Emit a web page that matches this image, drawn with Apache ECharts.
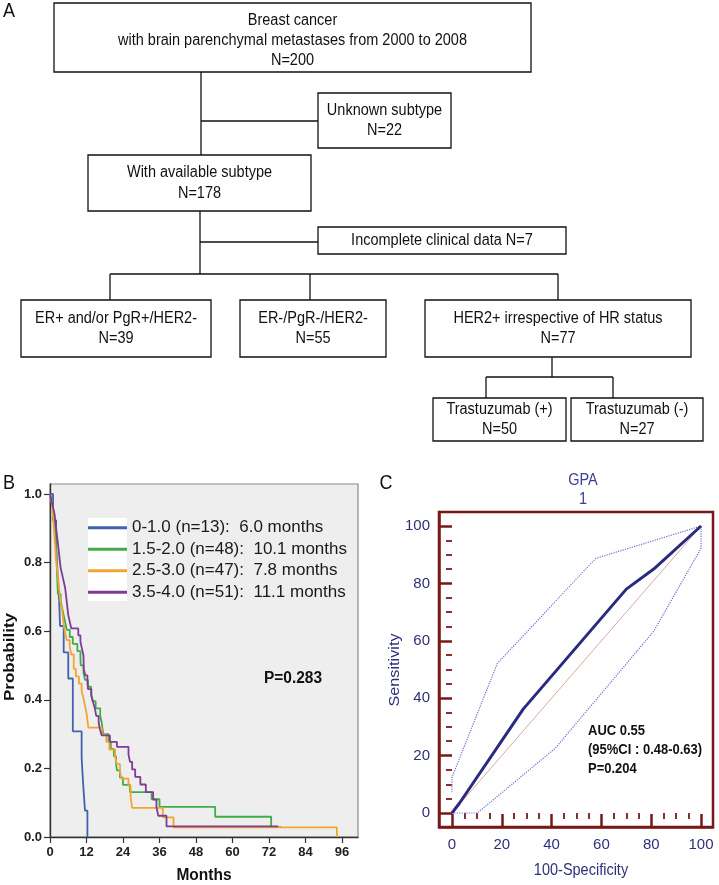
<!DOCTYPE html>
<html><head><meta charset="utf-8">
<script src="https://cdn.jsdelivr.net/npm/echarts@6/dist/echarts.min.js"></script>
<style>html,body{margin:0;padding:0;background:#fff}#c{width:719px;height:885px}</style>
</head><body><div id="c"></div>
<script>
// ---------------- data ----------------
const flowTexts = [
  'Breast cancer\nwith brain parenchymal metastases from 2000 to 2008\nN=200',
  'Unknown subtype\nN=22',
  'With available subtype\nN=178',
  'Incomplete clinical data N=7',
  'ER+ and/or PgR+/HER2-\nN=39',
  'ER-/PgR-/HER2-\nN=55',
  'HER2+ irrespective of HR status\nN=77',
  'Trastuzumab (+)\nN=50',
  'Trastuzumab (-)\nN=27'
];

const kmNames = ['0-1.0 (n=13):  6.0 months', '1.5-2.0 (n=48):  10.1 months', '2.5-3.0 (n=47):  7.8 months', '3.5-4.0 (n=51):  11.1 months'];
const kmColors = ['#4262b0', '#3fae49', '#f5a432', '#7e3c93'];

const blueMonths = [0,1.0,2.0,2.5,3.0,3.3,4.5,6.0,7.5,10.4,10.9,11.5,12.3];
const blueSurv   = [1,.923,.846,.769,.692,.615,.538,.462,.308,.231,.154,.077,0];

const greenMonths = [0,0.5,1,1.5,2,2.3,2.6,3.5,4,4.5,5,5.5,6.5,7.5,9,10,10.1,11,11.5,12.5,13.5,14,15,16.5,17,17.5,19.2,20,21,21.7,22,23,24,26.3,33.4,36,54.3,72.7,76];
const greenSurv   = [1,.979,.958,.917,.854,.771,.708,.688,.667,.646,.625,.604,.583,.563,.542,.521,.500,.479,.458,.438,.417,.396,.375,.354,.333,.300,.278,.257,.236,.215,.194,.173,.152,.131,.110,.088,.059,.029,.029];

const orangeMonths = [0,0.5,1,1.5,2,2.5,3,3.5,4,4.5,5,5.5,6.5,7,7.8,8.5,9.5,10.4,11,11.5,12,12.6,17,18.5,19.5,21.4,22,23,23.5,25.8,26.5,27,37.1,40.6,94.3];
const orangeSurv   = [1,.979,.936,.872,.809,.766,.723,.681,.660,.617,.596,.574,.553,.532,.490,.468,.447,.426,.404,.383,.362,.319,.298,.277,.255,.234,.213,.191,.170,.149,.117,.085,.057,.028,0];

const purpleMonths = [0,0.5,1,1.5,2,2.5,3,3.5,4,4.5,5,5.5,6,6.5,7,9.3,10,10.5,11,11.1,11.6,12.3,12.5,13.6,14.2,14.8,15.2,16,16.4,17,19.7,22,25.8,26.3,27,28,29.7,31.5,33.9,35,35.6,38.3,75];
const purpleSurv   = [1,.980,.961,.941,.902,.863,.824,.784,.765,.745,.725,.686,.647,.627,.608,.588,.569,.549,.529,.490,.471,.451,.431,.412,.392,.373,.353,.333,.314,.296,.277,.263,.241,.219,.197,.175,.153,.131,.109,.087,.062,.031,.031];

const greenCensorMonths = [49.9, 75.5];
const greenCensorSurv   = [.088, .029];
const purpleCensorMonths = [20.5, 21.5, 28.4, 75];
const purpleCensorSurv   = [.277, .277, .175, .031];

const monthTicks = [0,12,24,36,48,60,72,84,96];
const probTicks = [0,0.2,0.4,0.6,0.8,1.0];

const rocMajorTicks = [0,20,40,60,80,100];
const rocMinorTicks = [5,10,15,25,30,35,45,50,55,65,70,75,85,90,95];
const rocFpr = [0, 3, 28.6, 70, 81, 100];
const rocTpr = [0, 3.4, 36.2, 78, 85, 100];
const ciUpperFpr = [0, 0, 18.2, 57.7, 100];
const ciUpperTpr = [7.2, 12.4, 52.1, 88.7, 100];
const ciLowerFpr = [0, 10.2, 41.4, 80.9, 100, 100];
const ciLowerTpr = [0, 0, 22.5, 63.2, 92.2, 100];
const refFpr = [0, 100];
const refTpr = [0, 100];

// ---------------- helpers ----------------
const FONT = '"Liberation Sans", Arial, sans-serif';
const zip = (a, b) => a.map((v, i) => [v, b[i]]);
const G = [];
function box(x, y, w, h) { G.push({type:'rect', z:1, shape:{x, y, width:w, height:h}, style:{fill:'#fff', stroke:'#111', lineWidth:1.3}}); }
function seg(x1, y1, x2, y2) { G.push({type:'line', z:1, shape:{x1, y1, x2, y2}, style:{stroke:'#111', lineWidth:1.3}}); }
function txt(s, x, y, o) {
  o = o || {};
  G.push({type:'text', z:5, x, y, rotation:o.rot || 0, scaleX:o.sx || 1, scaleY:o.sy || 1,
    style:{text:s, fill:o.color || '#111', fontSize:o.size || 14, fontWeight:o.weight || 'normal', fontFamily:FONT,
      lineHeight:o.lh, align:o.align || 'center', verticalAlign:'middle', textAlign:o.align || 'center', textVerticalAlign:'middle'}});
}

// ---------------- flowchart (panel A) ----------------
const boxes = [[54,3,477,69],[318,93,133,55],[88,155,223,56],[318,227,248,27],[21,300,190,57],[240,300,146,57],[425,300,266,57],[433,398,133,43],[571,398,132,43]];
seg(201,72,201,155); seg(201,121,318,121);
seg(200,211,200,274); seg(200,242,318,242);
seg(110,274,558,274); seg(110,274,110,300); seg(310,274,310,300); seg(558,274,558,300);
seg(552,357,552,377); seg(486,377,613,377); seg(486,377,486,398); seg(613,377,613,398);
boxes.forEach((b, i) => {
  box(b[0], b[1], b[2], b[3]);
  const cy = b[1] + b[3] / 2 + (i === 0 ? 3 : 0);
  txt(flowTexts[i], b[0] + b[2] / 2, cy, {size:14.5, lh: i === 0 ? 17.5 : 18, sy:1.12});
});
txt('A', 9, 11, {size:18, sy:1.12});
txt('B', 9, 483, {size:18, sy:1.12});
txt('C', 386, 483, {size:18, sy:1.12});

// ---------------- panel B extras ----------------
G.push({type:'rect', z:3, shape:{x:88, y:518, width:39, height:83}, style:{fill:'#fff'}});
txt('P=0.283', 293, 678, {size:15.5, weight:'bold', sy:1.12});
txt('Probability', 10, 657, {size:15.5, weight:'bold', rot:Math.PI/2, sx:1.1});
txt('Months', 204, 875, {size:15.5, weight:'bold', sy:1.12});

// ---------------- panel C extras ----------------
const navy = '#2f2f7d';
txt('GPA\n1', 583, 490, {size:14.5, color:'#3d3d99', lh:18, sy:1.1});
txt('Sensitivity', 395, 670, {size:14.5, color:navy, rot:Math.PI/2, sx:1.12});
txt('100-Specificity', 581, 871, {size:14.5, color:navy, sy:1.12});
txt('AUC 0.55\n(95%CI : 0.48-0.63)\nP=0.204', 588, 750, {size:13, weight:'bold', lh:17, align:'left', sy:1.1});

// ---------------- series ----------------
const kmData = [zip(blueMonths, blueSurv), zip(greenMonths, greenSurv), zip(orangeMonths, orangeSurv), zip(purpleMonths, purpleSurv)];
const series = kmData.map((d, i) => ({
  name: kmNames[i], type:'line', xAxisIndex:0, yAxisIndex:0, step:'end', data:d,
  showSymbol:false, symbol:'none', color:kmColors[i], lineStyle:{width:1.8, color:kmColors[i]}, z:2 + i * 0.1, silent:true
}));
const censorSym = 'path://M0,0L0,10';
series.push({type:'scatter', xAxisIndex:0, yAxisIndex:0, data:zip(greenCensorMonths, greenCensorSurv), symbol:censorSym, symbolSize:[1.5,7], itemStyle:{color:kmColors[1], borderColor:kmColors[1], borderWidth:1.2}, z:3, silent:true});
series.push({type:'scatter', xAxisIndex:0, yAxisIndex:0, data:zip(purpleCensorMonths, purpleCensorSurv), symbol:censorSym, symbolSize:[1.5,7], itemStyle:{color:kmColors[3], borderColor:kmColors[3], borderWidth:1.2}, z:3, silent:true});

series.push({type:'line', xAxisIndex:1, yAxisIndex:1, data:zip(refFpr, refTpr), symbol:'none', lineStyle:{color:'#dba99f', width:1}, z:2, silent:true});
series.push({type:'line', xAxisIndex:1, yAxisIndex:1, data:zip(ciUpperFpr, ciUpperTpr), symbol:'none', lineStyle:{color:'#6f6fd0', width:1.2, type:'dotted'}, z:2, silent:true});
series.push({type:'line', xAxisIndex:1, yAxisIndex:1, data:zip(ciLowerFpr, ciLowerTpr), symbol:'none', lineStyle:{color:'#6f6fd0', width:1.2, type:'dotted'}, z:2, silent:true});
series.push({type:'line', xAxisIndex:1, yAxisIndex:1, data:zip(rocFpr, rocTpr), symbol:'none', lineStyle:{color:'#2a2a80', width:3}, z:3, silent:true});

const maroon = '#7a1818';
const option = {
  animation:false,
  graphic:{elements:G},
  grid:[
    {left:50, top:484, width:308, height:353, show:true, backgroundColor:'#eeeeee', borderColor:'#8a8a8a', borderWidth:1.2},
    {left:439, top:512, width:274, height:315, show:true, backgroundColor:'#fff', borderColor:maroon, borderWidth:2.5}
  ],
  legend:{
    data:kmNames, orient:'vertical', left:88, top:517, padding:0, itemGap:0, itemWidth:39, itemHeight:3, itemTextGap:5,
    icon:'rect', selectedMode:false, z:4,
    textStyle:{fontSize:17, lineHeight:21.5, color:'#1a1a1a', fontFamily:FONT}
  },
  xAxis:[
    {type:'value', gridIndex:0, min:0, max:101.25, splitLine:{show:false},
      axisLine:{show:true, onZero:false, lineStyle:{color:'#333', width:1.4}},
      axisTick:{show:true, customValues:monthTicks, length:6, lineStyle:{color:'#333', width:1.2}},
      axisLabel:{customValues:monthTicks, margin:9, fontSize:13, fontWeight:'bold', color:'#222', fontFamily:FONT}},
    {type:'value', gridIndex:1, min:-5.2, max:104.8, splitLine:{show:false},
      axisLine:{show:true, onZero:false, lineStyle:{color:maroon, width:2.5}},
      axisTick:{show:true, inside:true, customValues:rocMajorTicks, length:13, lineStyle:{color:maroon, width:2.5}},
      axisLabel:{customValues:rocMajorTicks, margin:10, fontSize:15, color:navy, fontFamily:FONT}},
    {type:'value', gridIndex:1, min:-5.2, max:104.8, splitLine:{show:false},
      axisLine:{show:false},
      axisTick:{show:true, inside:true, customValues:rocMinorTicks, length:6, lineStyle:{color:maroon, width:1.8}},
      axisLabel:{show:false}}
  ],
  yAxis:[
    {type:'value', gridIndex:0, min:0, max:1.029, splitLine:{show:false},
      axisLine:{show:true, onZero:false, lineStyle:{color:'#333', width:1.4}},
      axisTick:{show:true, customValues:probTicks, length:6, lineStyle:{color:'#333', width:1.2}},
      axisLabel:{customValues:probTicks, margin:8, fontSize:13, fontWeight:'bold', color:'#222', fontFamily:FONT, formatter:v => v.toFixed(1)}},
    {type:'value', gridIndex:1, min:-4.88, max:104.88, splitLine:{show:false},
      axisLine:{show:true, onZero:false, lineStyle:{color:maroon, width:2.5}},
      axisTick:{show:true, inside:true, customValues:rocMajorTicks, length:13, lineStyle:{color:maroon, width:2.5}},
      axisLabel:{customValues:rocMajorTicks, margin:9, fontSize:15, color:navy, fontFamily:FONT}},
    {type:'value', gridIndex:1, min:-4.88, max:104.88, splitLine:{show:false},
      axisLine:{show:false},
      axisTick:{show:true, inside:true, customValues:rocMinorTicks, length:6, lineStyle:{color:maroon, width:1.8}},
      axisLabel:{show:false}}
  ],
  series
};
const chart = echarts.init(document.getElementById('c'), null, {renderer:'canvas'});
chart.setOption(option);
</script></body></html>
